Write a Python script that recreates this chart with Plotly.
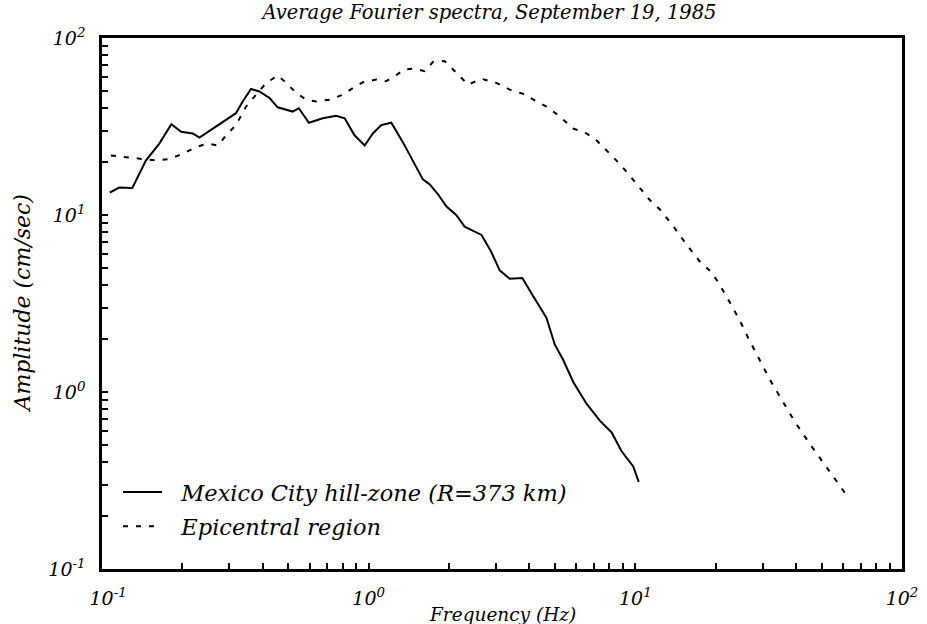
"""Average Fourier spectra, September 19, 1985 - log-log comparison."""

import plotly.graph_objects as go

# Mexico City hill-zone (R=373 km), solid line
freq_hill = [0.107, 0.116, 0.130, 0.146, 0.164, 0.182, 0.198, 0.219, 0.232, 0.260,
             0.292, 0.318, 0.337, 0.362, 0.389, 0.425, 0.456, 0.519, 0.547, 0.597,
             0.673, 0.755, 0.813, 0.885, 0.966, 1.037, 1.115, 1.216, 1.343, 1.465,
             1.597, 1.693, 1.820, 1.955, 2.13, 2.29, 2.65, 2.88, 3.10, 3.38,
             3.77, 4.13, 4.64, 4.99, 5.36, 5.85, 6.56, 7.36, 8.15, 8.87,
             9.82, 10.3]
amp_hill = [13.4, 14.3, 14.2, 20.3, 25.3, 32.6, 29.5, 28.9, 27.4, 30.8,
            34.4, 37.6, 43.8, 51.5, 49.9, 45.8, 40.6, 38.4, 40.1, 33.2,
            35.2, 36.4, 35.2, 28.2, 24.7, 28.9, 32.2, 33.2, 25.8, 20.3,
            15.9, 14.9, 13.1, 11.2, 10.0, 8.6, 7.72, 6.20, 4.87, 4.36,
            4.40, 3.50, 2.63, 1.85, 1.52, 1.14, 0.859, 0.689, 0.591, 0.464,
            0.380, 0.310]

# Epicentral region, dashed line
freq_epi = [0.108, 0.138, 0.160, 0.179, 0.201, 0.225, 0.249, 0.272, 0.292, 0.318,
            0.347, 0.378, 0.413, 0.456, 0.491, 0.535, 0.583, 0.636, 0.713, 0.800,
            0.873, 0.951, 1.069, 1.164, 1.251, 1.364, 1.486, 1.622, 1.742, 1.927,
            2.10, 2.36, 2.65, 3.01, 3.38, 3.79, 4.26, 4.64, 5.13, 5.85,
            6.56, 7.15, 8.02, 8.75, 9.53, 10.4, 11.3, 12.4, 13.9, 15.6,
            17.5, 19.3, 20.8, 22.6, 24.7, 26.5, 29.3, 32.0, 34.9, 39.7,
            45.2, 51.4, 61.1]
amp_epi = [21.7, 20.7, 20.3, 20.7, 22.2, 24.2, 25.3, 24.7, 28.2, 32.2,
           41.0, 47.8, 55.8, 61.4, 55.8, 48.9, 44.8, 43.8, 44.8, 47.8,
           52.2, 56.2, 58.3, 57.0, 60.8, 66.5, 67.1, 65.0, 73.2, 74.1,
           65.0, 54.5, 58.8, 55.8, 51.1, 48.4, 43.8, 41.0, 36.7, 30.8,
           28.9, 26.4, 22.2, 19.4, 16.7, 14.3, 12.2, 10.7, 8.61, 6.77,
           5.43, 4.76, 4.00, 3.21, 2.52, 2.02, 1.52, 1.17, 0.937, 0.677,
           0.507, 0.389, 0.269]

decade_vals = [0.1, 1, 10, 100]
decade_labels = ["10<sup>-1</sup>", "10<sup>0</sup>", "10<sup>1</sup>", "10<sup>2</sup>"]

FONT = "DejaVu Serif"
NBSP = "\u00a0\u00a0"  # small leading pad, keeps text clear of the axis / sample line

# unlabelled minor ticks at 2..9 x 10^n
minor_vals = [k * d for d in decade_vals[:-1] for k in range(2, 10)]
x_tick_text = [NBSP + decade_labels[0]] + decade_labels[1:]

fig = go.Figure()
fig.add_trace(
    go.Scatter(
        x=freq_hill, y=amp_hill, mode="lines",
        name=NBSP + "Mexico City hill-zone (R=373 km)",
        legendgroup="a",
        line=dict(color="black", width=2),
    )
)
fig.add_trace(
    go.Scatter(
        x=freq_epi, y=amp_epi, mode="lines",
        name=NBSP + "Epicentral region",
        legendgroup="b",
        line=dict(color="black", width=2, dash="5px,8px"),
    )
)

axis_common = dict(
    type="log",
    range=[-1, 2],
    tickvals=decade_vals,
    tickangle=0,
    automargin=False,
    ticks="inside",
    ticklen=6,
    tickwidth=1.5,
    tickcolor="black",
    minor=dict(tickvals=minor_vals, ticks="inside", ticklen=6, tickwidth=1.5,
               tickcolor="black", showgrid=False),
    showline=True,
    linecolor="black",
    linewidth=2.5,
    mirror=True,
    showgrid=False,
    zeroline=False,
    tickfont=dict(family=FONT, size=19, color="black", style="italic"),
)

fig.update_layout(
    width=927,
    height=624,
    margin=dict(l=102, r=25, t=38, b=55),
    paper_bgcolor="white",
    plot_bgcolor="white",
    font=dict(family=FONT, size=16, color="black", style="italic"),
    title=dict(
        text="Average Fourier spectra, September 19, 1985",
        x=0.528, xanchor="center", y=0.98, yanchor="middle",
        font=dict(family=FONT, size=19.5, color="black", style="italic"),
    ),
    xaxis=dict(axis_common, ticktext=x_tick_text, ticklabelstandoff=10),
    yaxis=dict(axis_common, ticktext=decade_labels, ticklabelstandoff=10),
    showlegend=True,
    legend=dict(
        x=0.02, y=0.185, xanchor="left", yanchor="top",
        bgcolor="rgba(0,0,0,0)",
        traceorder="grouped",
        tracegroupgap=2,
        itemwidth=39,
        font=dict(family=FONT, size=22.5, color="black", style="italic"),
    ),
    annotations=[
        dict(text="Frequency (Hz)", x=0.5, y=-0.085, xref="paper", yref="paper",
             xanchor="center", yanchor="middle", showarrow=False,
             font=dict(family=FONT, size=18.5, color="black", style="italic")),
        dict(text="Amplitude (cm/sec)", x=-0.1, y=0.5, xref="paper", yref="paper",
             xanchor="center", yanchor="middle", showarrow=False, textangle=-90,
             font=dict(family=FONT, size=22, color="black", style="italic")),
    ],
)

# drop the browser's default body margin so the figure sits at the page origin
fig.write_html(
    "out.html",
    config={"displayModeBar": False},
    post_script="document.body.style.margin = '0';",
)
